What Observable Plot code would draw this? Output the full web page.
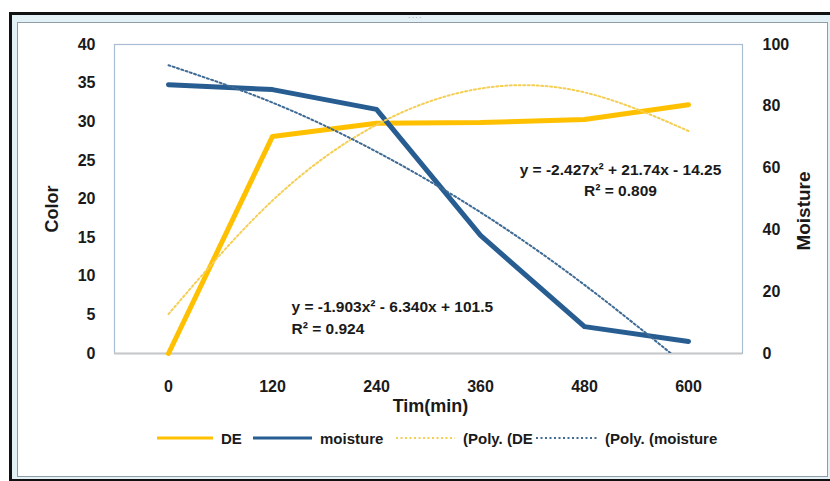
<!DOCTYPE html>
<html>
<head>
<meta charset="utf-8">
<script src="https://cdn.jsdelivr.net/npm/d3@7"></script>
<script src="https://cdn.jsdelivr.net/npm/@observablehq/plot@0.6"></script>
<style>
  html, body { margin: 0; padding: 0; background: #ffffff; }
  body { position: relative; width: 830px; height: 481px; overflow: hidden; font-family: 'Liberation Sans', Arial, sans-serif; }
  #outer { position: absolute; left: 9px; top: 12px; width: 825px; height: 470px; box-sizing: border-box;
           border-left: 3px solid #111; border-top: 3px solid #111; border-bottom: 3px solid #111; background: #e3f1f6; }
  #inner { position: absolute; left: 17px; top: 22px; width: 811px; height: 455px; box-sizing: border-box;
           border: 1px solid #8f9ea6; background: #ffffff; }
  #handle { position: absolute; left: 408px; top: 13px; font-size: 8px; color: #8a9aa2; letter-spacing: 1px; }
  #chart { position: absolute; left: 0; top: 0; }
  #legend { position: absolute; left: 0; top: 428px; width: 830px; height: 20px; }
  .li { position: absolute; top: 0; height: 20px; display: flex; align-items: center; }
  .lt { font-size: 15px; font-weight: bold; color: #1a1a1a; white-space: nowrap; margin-left: 8px; }
</style>
</head>
<body>
<div id="outer"></div>
<div id="inner"></div>
<div id="handle">····</div>
<div id="chart"></div>
<div id="legend"></div>
<script>
// ---- data ----
const times = ["0", "120", "240", "360", "480", "600"];
const deValues = [0, 28.1, 29.8, 29.9, 30.3, 32.2];          // Color (left axis)
const moistureValues = [87, 85.4, 79, 38.2, 8.7, 3.9];       // Moisture (right axis)
const dePoly = [5.1, 19.8, 29.6, 34.3, 33.8, 28.8];          // Poly. (DE) trendline read at each category
const moisturePoly = [93.3, 81.2, 65.3, 45.7, 22.2, -4.6];   // Poly. (moisture) trendline read at each category
const colorTicks = [0, 5, 10, 15, 20, 25, 30, 35, 40];
const moistureTicks = [0, 20, 40, 60, 80, 100];
const deEquation = ["y = -2.427x\u00b2 + 21.74x - 14.25", "R\u00b2 = 0.809"];
const moistureEquation = ["y = -1.903x\u00b2 - 6.340x + 101.5", "R\u00b2 = 0.924"];
const legendLabels = ["DE", "moisture", "(Poly. (DE", "(Poly. (moisture"];

// ---- styling ----
const DE_COLOR = "#FFC000";
const DE_TREND = "#F5CF55";
const M_COLOR = "#275D91";
const M_TREND = "#3E6A94";
const k = 40 / 100; // moisture -> left-axis units

const rows = times.map((t, i) => ({
  time: t, de: deValues[i], moisture: moistureValues[i] * k,
  dePoly: dePoly[i], moisturePoly: moisturePoly[i] * k
}));

const chart = Plot.plot({
  width: 830,
  height: 420,
  marginLeft: 114,
  marginRight: 88,
  marginTop: 44,
  marginBottom: 67,
  style: { fontFamily: "'Liberation Sans', Arial, sans-serif", fontSize: "16px", fontWeight: "bold", color: "#1a1a1a", background: "transparent", overflow: "visible" },
  x: { type: "point", domain: times, padding: 0.5 },
  y: { domain: [0, 40] },
  marks: [
    Plot.frame({ stroke: "#a9bcd3", strokeWidth: 1.2 }),
    Plot.ruleY([0], { stroke: "#c8c8c8", strokeWidth: 2 }),
    Plot.axisX({ tickSize: 0, tickPadding: 27, label: null }),
    Plot.axisY({ ticks: colorTicks, tickSize: 0, tickPadding: 19, label: null }),
    Plot.axisY({ anchor: "right", ticks: moistureTicks.map(v => v * k), tickFormat: d => Math.round(d / k), tickSize: 0, tickPadding: 20, label: null }),
    Plot.line(rows, { x: "time", y: "de", stroke: DE_COLOR, strokeWidth: 5, strokeLinejoin: "round", strokeLinecap: "round" }),
    Plot.line(rows, { x: "time", y: "moisture", stroke: M_COLOR, strokeWidth: 5, strokeLinejoin: "round", strokeLinecap: "round" }),
    Plot.line(rows, { x: "time", y: "dePoly", curve: "natural", stroke: DE_TREND, strokeWidth: 2, strokeDasharray: "2 2.5" }),
    Plot.line(rows, { x: "time", y: "moisturePoly", curve: "natural", stroke: M_TREND, strokeWidth: 2, strokeDasharray: "2 2.5", clip: true }),
    Plot.text([deEquation[0]], { text: d => d, frameAnchor: "top-left", dx: 506, dy: 119, textAnchor: "middle", fontSize: 15.5, fontWeight: "bold" }),
    Plot.text([deEquation[1]], { text: d => d, frameAnchor: "top-left", dx: 506, dy: 140, textAnchor: "middle", fontSize: 15.5, fontWeight: "bold" }),
    Plot.text([moistureEquation[0]], { text: d => d, frameAnchor: "top-left", dx: 177, dy: 256, textAnchor: "start", fontSize: 15.5, fontWeight: "bold" }),
    Plot.text([moistureEquation[1]], { text: d => d, frameAnchor: "top-left", dx: 177, dy: 278, textAnchor: "start", fontSize: 15.5, fontWeight: "bold" }),
    Plot.text(["Color"], { text: d => d, frameAnchor: "left", dx: -62, dy: 10, rotate: -90, textAnchor: "middle", fontSize: 18, fontWeight: "bold" }),
    Plot.text(["Moisture"], { text: d => d, frameAnchor: "right", dx: 61, dy: 12, rotate: -90, textAnchor: "middle", fontSize: 19, fontWeight: "bold", letterSpacing: "1.5px" }),
    Plot.text(["Tim(min)"], { text: d => d, frameAnchor: "bottom", dx: 2, dy: 58, textAnchor: "middle", fontSize: 18, fontWeight: "bold" })
  ]
});
document.getElementById("chart").appendChild(chart);

// ---- legend ----
const legendStyles = [
  { color: DE_COLOR, width: 3, dash: null, x: 157, w: 56 },
  { color: M_COLOR, width: 3, dash: null, x: 253, w: 59 },
  { color: DE_TREND, width: 2, dash: "2 2.5", x: 396, w: 59 },
  { color: M_TREND, width: 2, dash: "2 2.5", x: 536, w: 61 }
];
const legend = d3.select("#legend");
legendLabels.forEach((label, i) => {
  const s = legendStyles[i];
  const item = legend.append("div").attr("class", "li").style("left", s.x + "px");
  const svg = item.append("svg").attr("width", s.w).attr("height", 20);
  svg.append("line").attr("x1", 0).attr("x2", s.w).attr("y1", 10).attr("y2", 10)
    .attr("stroke", s.color).attr("stroke-width", s.width)
    .attr("stroke-dasharray", s.dash);
  item.append("span").attr("class", "lt").text(label);
});
</script>
</body>
</html>
